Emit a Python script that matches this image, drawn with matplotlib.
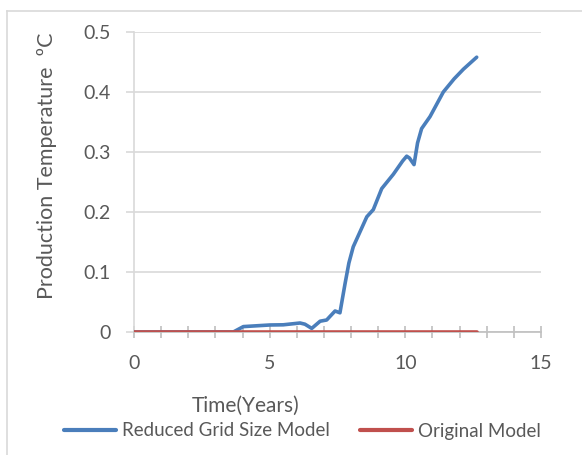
import matplotlib
matplotlib.use("Agg")
import matplotlib.pyplot as plt
from matplotlib.lines import Line2D

plt.rcParams['font.family'] = ['Lato', 'DejaVu Sans']

# Reduced grid size model: production temperature change over time
time_reduced = [0.0, 3.50, 3.66, 4.03, 5.01, 5.50, 6.12, 6.30, 6.55, 6.86, 7.10,
                7.41, 7.59, 7.78, 7.92, 8.08, 8.58, 8.82, 9.13, 9.56, 9.90, 10.05,
                10.15, 10.32, 10.45, 10.60, 10.91, 11.40, 11.80, 12.14, 12.63]
temp_reduced = [0.0, 0.0, 0.0, 0.009, 0.0117, 0.012, 0.015, 0.013, 0.006, 0.018, 0.020,
                0.035, 0.032, 0.081, 0.115, 0.142, 0.192, 0.204, 0.239, 0.263, 0.285, 0.293,
                0.290, 0.279, 0.315, 0.339, 0.359, 0.400, 0.422, 0.438, 0.458]

# Original model
time_original = [0.0, 12.63]
temp_original = [0.0, 0.0]

x_ticks = [0, 5, 10, 15]
y_ticks = [0, 0.1, 0.2, 0.3, 0.4, 0.5]
y_tick_labels = ['0', '0.1', '0.2', '0.3', '0.4', '0.5']

text_color = '#595959'
grid_color = '#D9D9D9'
axis_color = '#BFBFBF'
blue = '#4A7EBB'
red = '#C0504D'

fig = plt.figure(figsize=(5.82, 4.55), dpi=100)
ax = fig.add_axes([134 / 582, 1 - 332 / 455, (541 - 134) / 582, 300 / 455])

ax.plot(time_reduced, temp_reduced, color=blue, lw=2.6, solid_capstyle='round',
        solid_joinstyle='round', label='Reduced Grid Size Model', zorder=3)
ax.plot(time_original, temp_original, color=red, lw=2.6, solid_capstyle='round',
        label='Original Model', zorder=4)

ax.set_xlim(0, 15)
ax.set_ylim(0, 0.5)
ax.set_xticks(x_ticks)
ax.set_xticks(range(0, 16), minor=True)
ax.set_yticks(y_ticks)
ax.set_yticklabels(y_tick_labels)

ax.yaxis.grid(True, color=grid_color, lw=1.2)
ax.set_axisbelow(True)
for side in ['top', 'right']:
    ax.spines[side].set_visible(False)
ax.spines['left'].set_color(grid_color)
ax.spines['bottom'].set_color(axis_color)
ax.spines['left'].set_linewidth(1.2)
ax.spines['bottom'].set_linewidth(1.2)

ax.tick_params(axis='x', which='both', direction='inout', length=8.6, width=1.2,
               color=axis_color, labelcolor=text_color, labelsize=14, pad=12.5)
ax.tick_params(axis='y', which='major', direction='out', length=5.8, width=1.2,
               color=grid_color, labelcolor=text_color, labelsize=14, pad=11)

ax.set_xlabel('Time(Years)', color=text_color, fontsize=15)
ax.xaxis.set_label_coords((246 - 134) / 407, (332 - 396) / 300)
ax.set_ylabel('Production Temperature  ºC', color=text_color, fontsize=15.5)
ax.yaxis.label.set_va('center')
ax.yaxis.set_label_coords((47.5 - 134) / 407, (332 - 166) / 300)

leg = fig.legend(loc='center', bbox_to_anchor=(302 / 582, 1 - 431 / 455), ncol=2,
                 frameon=False, fontsize=13.5, handlelength=2.8, handletextpad=0.3,
                 columnspacing=1.6, borderpad=0)
for t in leg.get_texts():
    t.set_color(text_color)
for h in leg.legend_handles:
    h.set_linewidth(3)

# outer chart frame
fig.add_artist(Line2D([7 / 582, 7 / 582], [0, 1 - 10.5 / 455],
                      transform=fig.transFigure, color=grid_color, lw=1.2))
fig.add_artist(Line2D([7 / 582, 1], [1 - 10.5 / 455, 1 - 10.5 / 455],
                      transform=fig.transFigure, color=grid_color, lw=1.2))

fig.savefig('out.png', dpi=100, facecolor='white')
